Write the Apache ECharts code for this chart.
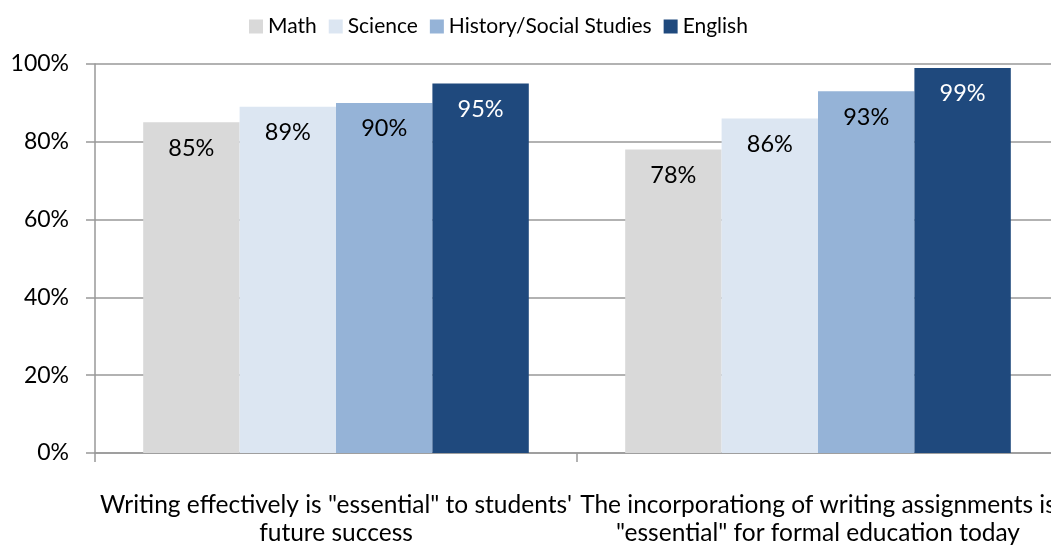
<!DOCTYPE html>
<html>
<head>
<meta charset="utf-8">
<script src="https://cdn.jsdelivr.net/npm/echarts@6/dist/echarts.min.js"></script>
<style>
  html, body { margin: 0; padding: 0; background: #fff; overflow: hidden; }
  #chart { width: 1060px; height: 547px; }
</style>
</head>
<body>
<div id="chart"></div>
<script>
// categories and series
const categories = [
  'Writing effectively is "essential" to students\'\nfuture success',
  'The incorporationg of writing assignments is\n"essential" for formal education today'
];
const seriesNames = ['Math', 'Science', 'History/Social Studies', 'English'];
const mathValues = [85, 78];
const scienceValues = [89, 86];
const historyValues = [90, 93];
const englishValues = [95, 99];
const colors = ['#D9D9D9', '#DCE6F2', '#95B3D7', '#1F497D'];
const labelColors = ['#000', '#000', '#000', '#fff'];

const FONT = 'Lato, "Open Sans", sans-serif';
const allValues = [mathValues, scienceValues, historyValues, englishValues];

const chart = echarts.init(document.getElementById('chart'));

const series = seriesNames.map((name, i) => ({
  name: name,
  type: 'bar',
  data: allValues[i],
  barGap: 0,
  barCategoryGap: '20%',
  itemStyle: { color: colors[i] },
  label: {
    show: true,
    position: 'insideTop',
    distance: 14,
    formatter: '{c}%',
    color: labelColors[i],
    fontFamily: FONT,
    fontSize: 23.5
  }
}));

chart.setOption({
  animation: false,
  textStyle: { fontFamily: FONT },
  legend: {
    data: seriesNames,
    top: 11,
    left: 244,
    itemWidth: 14,
    itemHeight: 14,
    itemGap: 12,
    icon: 'rect',
    textStyle: { fontSize: 21, color: '#000', fontFamily: FONT }
  },
  grid: {
    left: 95,
    right: 1,
    top: 64,
    bottom: 94,
    containLabel: false
  },
  xAxis: {
    type: 'category',
    data: categories,
    axisLine: { lineStyle: { color: '#999', width: 1.5 } },
    axisTick: { show: true, length: 9, lineStyle: { color: '#999', width: 1.5 } },
    axisLabel: {
      interval: 0,
      margin: 38,
      fontSize: 24.5,
      lineHeight: 28,
      color: '#000',
      fontFamily: FONT
    }
  },
  yAxis: {
    type: 'value',
    min: 0,
    max: 100,
    interval: 20,
    axisLine: { show: true, lineStyle: { color: '#999', width: 1.5 } },
    axisTick: { show: true, length: 9, lineStyle: { color: '#999', width: 1.5 } },
    splitLine: { lineStyle: { color: '#999', width: 1.5 } },
    axisLabel: {
      formatter: '{value}%',
      margin: 26,
      fontSize: 23,
      color: '#000',
      fontFamily: FONT
    }
  },
  series: series
});
</script>
</body>
</html>
